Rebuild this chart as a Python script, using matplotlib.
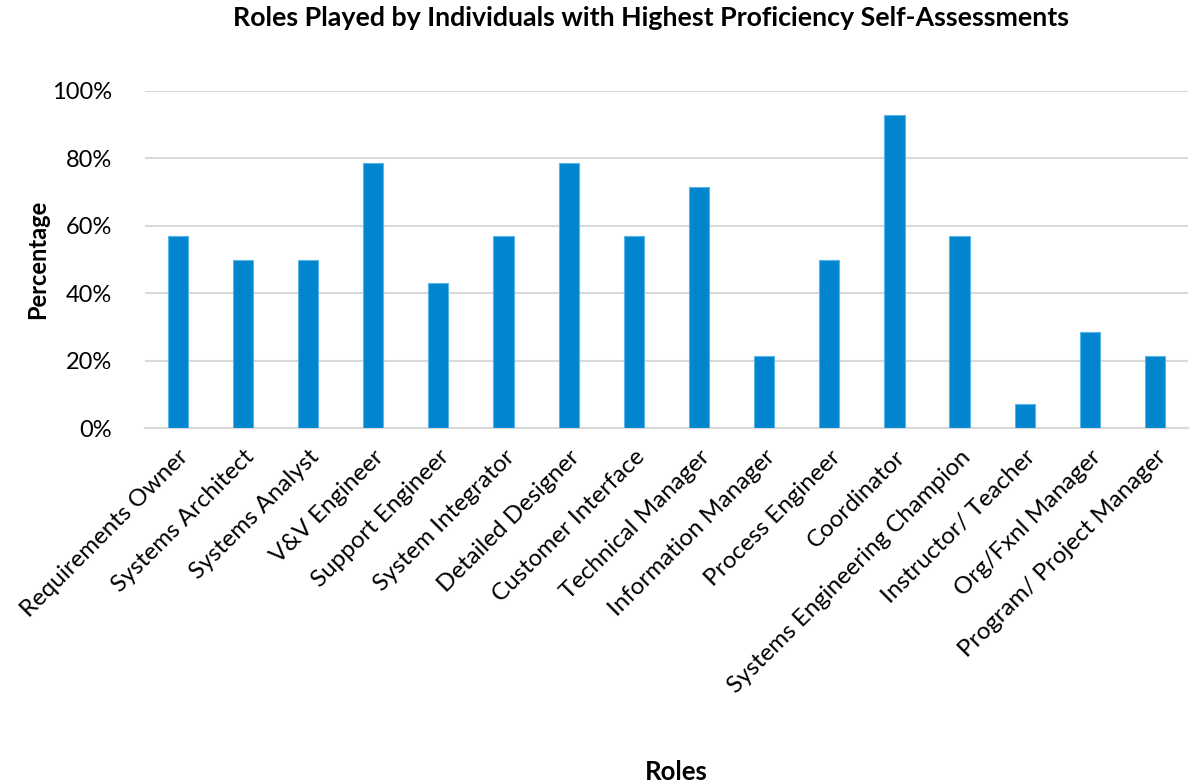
import matplotlib
matplotlib.use("Agg")
import matplotlib.pyplot as plt
from matplotlib.ticker import PercentFormatter

plt.rcParams['font.family'] = ['Lato', 'DejaVu Sans']

roles = ["Requirements Owner", "Systems Architect", "Systems Analyst", "V&V Engineer",
         "Support Engineer", "System Integrator", "Detailed Designer", "Customer Interface",
         "Technical Manager", "Information Manager", "Process Engineer", "Coordinator",
         "Systems Engineering Champion", "Instructor/ Teacher", "Org/Fxnl Manager",
         "Program/ Project Manager"]
percentages = [57.1, 50.0, 50.0, 78.6, 42.9, 57.1, 78.6, 57.1, 71.4, 21.4, 50.0, 92.9,
               57.1, 7.1, 28.6, 21.4]
yticks = [0, 20, 40, 60, 80, 100]

fig = plt.figure(figsize=(11.9, 7.84), dpi=100)
ax = fig.add_axes([0.122, 0.454, 0.876, 0.430])

x = list(range(len(roles)))
ax.bar(x, percentages, width=0.31, color='#0285CF', edgecolor='#5AB4E8', linewidth=0.8, zorder=3)

ax.set_xlim(-0.5, len(roles) - 0.5)
ax.set_ylim(0, 100)
ax.set_yticks(yticks)
ax.yaxis.set_major_formatter(PercentFormatter(decimals=0))
ax.grid(axis='y', color='#D9D9D9', linewidth=1.5, zorder=0)
for s in ['top', 'right', 'left']:
    ax.spines[s].set_visible(False)
ax.spines['bottom'].set_color('#D9D9D9')
ax.spines['bottom'].set_linewidth(1.5)
ax.tick_params(axis='x', length=0, labelsize=17.4, pad=13)
ax.tick_params(axis='y', length=0, labelsize=17, pad=24)
ax.set_xticks(x)
ax.set_xticklabels(roles, rotation=45, ha='right', rotation_mode='anchor')

fig.text(0.032, 0.5 * (0.454 + 0.884), 'Percentage', fontsize=17, fontweight='bold',
         rotation=90, ha='center', va='center')
fig.text(0.568, 0.0153, 'Roles', fontsize=18.5, fontweight='bold', ha='center', va='center')
fig.text(0.547, 0.977, 'Roles Played by Individuals with Highest Proficiency Self-Assessments',
         fontsize=19.3, fontweight='bold', ha='center', va='center')

fig.savefig('out.png', dpi=100)
